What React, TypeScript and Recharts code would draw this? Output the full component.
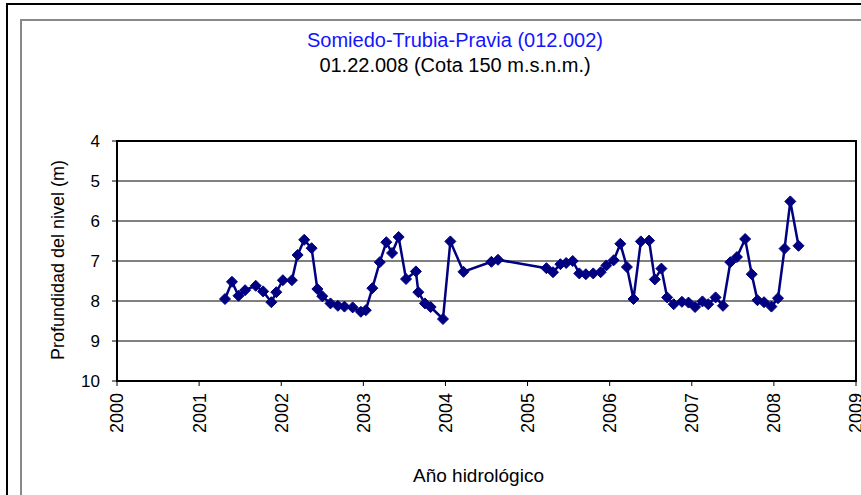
import React from 'react';
import {
  LineChart,
  Line,
  XAxis,
  YAxis,
  CartesianGrid,
  ReferenceArea,
} from 'recharts';

// Decimal year of each measurement
const dates: number[] = [
  2001.315, 2001.40, 2001.48, 2001.56, 2001.69, 2001.78, 2001.88, 2001.94, 2002.02, 2002.13,
  2002.20, 2002.28, 2002.37, 2002.44, 2002.50, 2002.60, 2002.69, 2002.77, 2002.87, 2002.97,
  2003.03, 2003.11, 2003.20, 2003.28, 2003.35, 2003.43, 2003.52, 2003.64, 2003.67, 2003.75,
  2003.82, 2003.97, 2004.06, 2004.22, 2004.56, 2004.64, 2005.23, 2005.31, 2005.40, 2005.47,
  2005.55, 2005.63, 2005.71, 2005.80, 2005.89, 2005.96, 2006.05, 2006.13, 2006.21, 2006.29,
  2006.38, 2006.48, 2006.55, 2006.63, 2006.70, 2006.78, 2006.88, 2006.96, 2007.04, 2007.13,
  2007.20, 2007.29, 2007.38, 2007.47, 2007.55, 2007.65, 2007.73, 2007.80, 2007.88, 2007.97,
  2008.05, 2008.13, 2008.20, 2008.30,
];

// Depth of water level (m)
const depths: number[] = [
  7.95, 7.52, 7.87, 7.73, 7.62, 7.76, 8.03, 7.78, 7.48, 7.48,
  6.85, 6.47, 6.68, 7.70, 7.88, 8.06, 8.12, 8.14, 8.16, 8.27,
  8.23, 7.68, 7.03, 6.53, 6.80, 6.40, 7.45, 7.26, 7.78, 8.06,
  8.15, 8.45, 6.51, 7.27, 7.02, 6.97, 7.18, 7.28, 7.08, 7.05,
  7.00, 7.31, 7.33, 7.31, 7.28, 7.11, 6.98, 6.57, 7.15, 7.95,
  6.51, 6.49, 7.46, 7.19, 7.91, 8.08, 8.02, 8.04, 8.15, 8.01,
  8.08, 7.91, 8.12, 7.03, 6.90, 6.45, 7.33, 7.98, 8.03, 8.14,
  7.93, 6.69, 5.51, 6.62,
];

const yearTicks: number[] = [2000, 2001, 2002, 2003, 2004, 2005, 2006, 2007, 2008, 2009];
const depthTicks: number[] = [4, 5, 6, 7, 8, 9, 10];

const titleMain = 'Somiedo-Trubia-Pravia (012.002)';
const titleSub = '01.22.008 (Cota 150 m.s.n.m.)';
const xTitle = 'Año hidrológico';
const yTitle = 'Profundidad del nivel (m)';

const data = dates.map((d, i) => ({ year: d, depth: depths[i] }));

const FONT = '"Liberation Sans", Arial, Helvetica, sans-serif';
const NAVY = '#000080';

const Diamond = (props: any) => {
  const { cx, cy, index } = props;
  if (cx == null || cy == null) return <g key={`d-${index}`} />;
  const r = 5.5;
  return (
    <polygon
      key={`d-${index}`}
      points={`${cx},${cy - r} ${cx + r},${cy} ${cx},${cy + r} ${cx - r},${cy}`}
      fill={NAVY}
      stroke={NAVY}
      strokeWidth={1}
    />
  );
};

const XTick = (props: any) => {
  const { x, y, payload } = props;
  return (
    <g transform={`translate(${x},${y})`}>
      <text
        x={0}
        y={0}
        dy="0.36em"
        transform="rotate(-90)"
        textAnchor="end"
        fontFamily={FONT}
        fontSize={18}
        fill="#000"
      >
        {payload.value}
      </text>
    </g>
  );
};

const XLabel = (props: any) => {
  const { viewBox } = props;
  const cx = viewBox.x + viewBox.width / 2 - 8;
  const by = 482;
  return (
    <text x={cx} y={by} textAnchor="middle" fontFamily={FONT} fontSize={19} fill="#000">
      {xTitle}
    </text>
  );
};

const YLabel = (props: any) => {
  const { viewBox } = props;
  const cx = 58;
  const cy = viewBox.y + viewBox.height / 2 - 1;
  return (
    <text
      x={cx}
      y={cy}
      transform={`rotate(-90, ${cx}, ${cy})`}
      textAnchor="middle"
      dominantBaseline="central"
      fontFamily={FONT}
      fontSize={18}
      fill="#000"
    >
      {yTitle}
    </text>
  );
};

export default function App() {
  return (
    <div style={{ position: 'absolute', left: 0, top: 0, width: 861, height: 495, background: '#fff', overflow: 'hidden' }}>
      <svg
        width={861}
        height={495}
        style={{ position: 'absolute', left: 0, top: 0 }}
      >
        <rect x={7} y={4} width={900} height={600} fill="none" stroke="#000" strokeWidth={2} />
        <rect x={21} y={20} width={900} height={600} fill="none" stroke="#888" strokeWidth={2} />
        <text x={455} y={47} textAnchor="middle" fontFamily={FONT} fontSize={20} fill="#1414ff">
          {titleMain}
        </text>
        <text x={455} y={72} textAnchor="middle" fontFamily={FONT} fontSize={20} fill="#000">
          {titleSub}
        </text>
      </svg>
      <div style={{ position: 'absolute', left: 0, top: 0 }}>
        <LineChart
          width={861}
          height={495}
          data={data}
          margin={{ top: 141, right: 5, bottom: 0, left: 0 }}
        >
          <CartesianGrid vertical={false} stroke="#000" strokeWidth={1} />
          <XAxis
            dataKey="year"
            type="number"
            domain={[2000, 2009]}
            ticks={yearTicks}
            allowDataOverflow
            height={114}
            stroke="#000"
            strokeWidth={2}
            tickSize={5}
            tickMargin={7}
            tickLine={{ stroke: '#000', strokeWidth: 1 }}
            tick={<XTick />}
            interval={0}
            label={<XLabel />}
          />
          <YAxis
            dataKey="depth"
            type="number"
            reversed
            domain={[4, 10]}
            ticks={depthTicks}
            allowDataOverflow
            width={117}
            stroke="#000"
            strokeWidth={2}
            tickSize={5}
            tickMargin={12}
            tickLine={{ stroke: '#000', strokeWidth: 1 }}
            tick={{ fill: '#000', fontSize: 17, fontFamily: FONT }}
            interval={0}
            label={<YLabel />}
          />
          <ReferenceArea
            x1={2000}
            x2={2009}
            y1={4}
            y2={10}
            fill="none"
            fillOpacity={0}
            stroke="#000"
            strokeWidth={2}
            strokeOpacity={1}
          />
          <Line
            type="linear"
            dataKey="depth"
            stroke={NAVY}
            strokeWidth={2.5}
            dot={<Diamond />}
            activeDot={false}
            isAnimationActive={false}
          />
        </LineChart>
      </div>
    </div>
  );
}
